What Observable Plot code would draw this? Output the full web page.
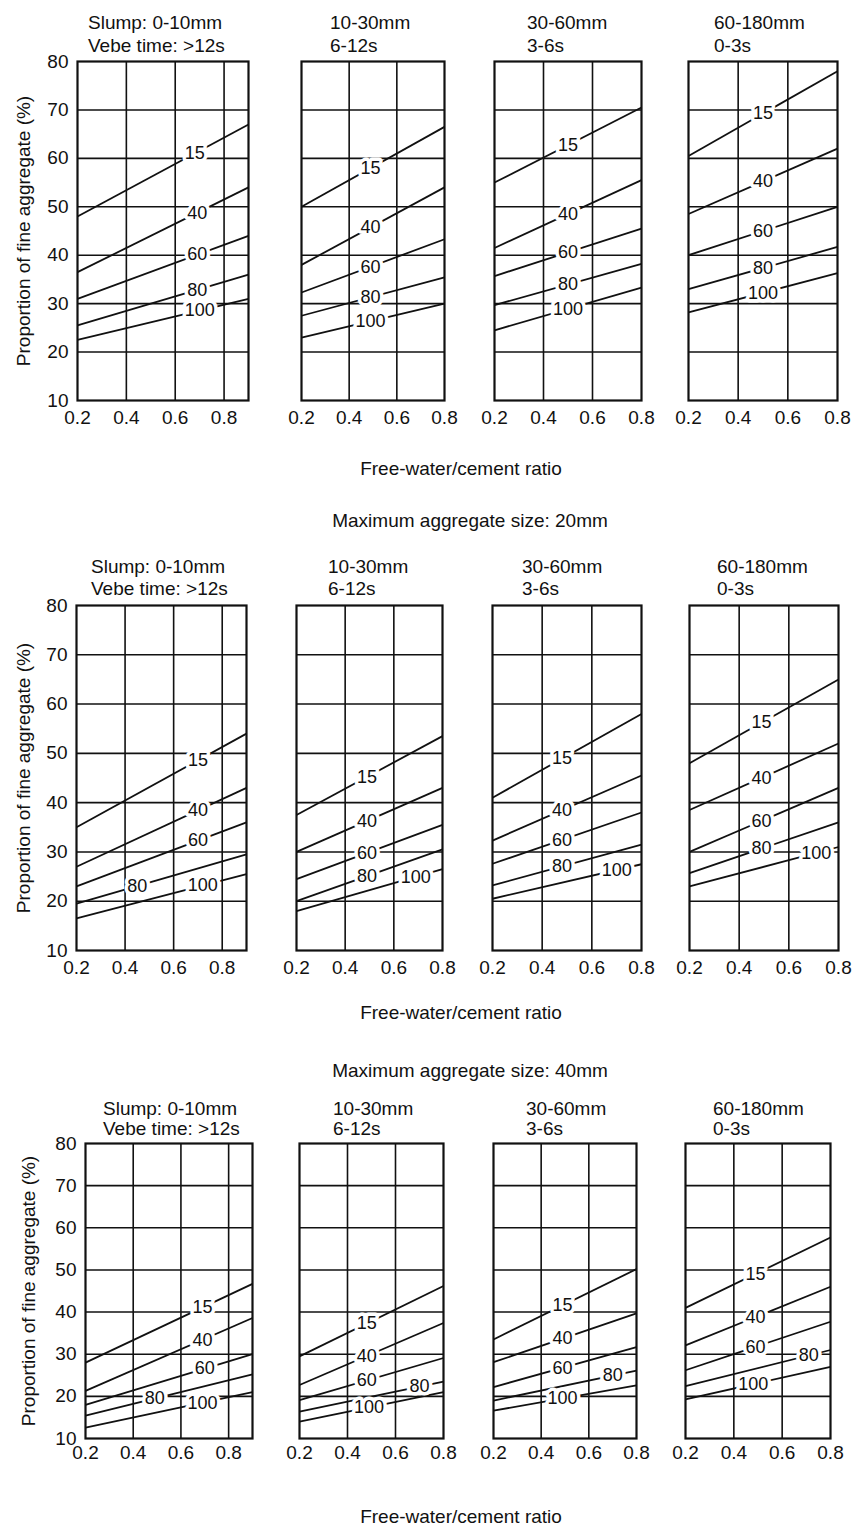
<!DOCTYPE html>
<html><head><meta charset="utf-8">
<script src="https://cdn.jsdelivr.net/npm/d3@7"></script>
<script src="https://cdn.jsdelivr.net/npm/@observablehq/plot@0.6"></script>
<style>
body{margin:0;background:#fff;}
#root{position:relative;width:858px;height:1540px;overflow:hidden;background:#fff;font-family:"Liberation Sans",Arial,sans-serif;color:#111;}
.t{position:absolute;white-space:nowrap;font-size:19px;line-height:23px;}
.c{transform:translateX(-50%);}
</style></head><body><div id="root"></div>
<script>
// ---------- data ----------
const curveLabels = ["15", "40", "60", "80", "100"];      // % passing 600 µm sieve
const slumpTitles = ["Slump: 0-10mm", "10-30mm", "30-60mm", "60-180mm"];
const vebeTitles  = ["Vebe time: >12s", "6-12s", "3-6s", "0-3s"];
const rowTitles   = ["", "Maximum aggregate size: 20mm", "Maximum aggregate size: 40mm"];
const xTicks = [0.2, 0.4, 0.6, 0.8];
const yTicks = [10, 20, 30, 40, 50, 60, 70, 80];
const xLabel = "Free-water/cement ratio";
const yLabel = "Proportion of fine aggregate (%)";

// values at w/c = 0.2 (start) and at right edge (end), per slump panel, per curve
const agg10Start = [[48, 36.5, 31, 25.5, 22.5], [50, 38, 32.3, 27.5, 23], [55, 41.5, 35.7, 29.7, 24.5], [60.5, 48.5, 40, 33, 28.2]];
const agg10End   = [[67, 54, 44, 36, 31], [66.5, 54, 43.3, 35.4, 30], [70.5, 55.5, 45.5, 38.2, 33.3], [78, 62, 50, 41.7, 36.3]];
const agg10LabelAt = [[0.68, 0.69, 0.69, 0.69, 0.70], [0.49, 0.49, 0.49, 0.49, 0.49], [0.5, 0.5, 0.5, 0.5, 0.5], [0.5, 0.5, 0.5, 0.5, 0.5]];

const agg20Start = [[35, 27, 23, 19.5, 16.5], [37.5, 30, 24.5, 20, 18], [41, 32.3, 27.6, 23.2, 20.5], [48, 38.5, 30, 25.7, 23]];
const agg20End   = [[54, 43, 36, 29.5, 25.5], [53.5, 43, 35.5, 30.5, 26.5], [58, 45.5, 38, 31.5, 27.5], [65, 52, 43, 36, 31]];
const agg20LabelAt = [[0.70, 0.70, 0.70, 0.45, 0.72], [0.49, 0.49, 0.49, 0.49, 0.69], [0.48, 0.48, 0.48, 0.48, 0.70], [0.49, 0.49, 0.49, 0.49, 0.71]];

const agg40Start = [[28, 21.3, 18, 15.4, 12.6], [29.5, 22.7, 19.1, 16.4, 14], [33.5, 28.1, 22.2, 19, 16.6], [41, 32.1, 26.2, 22.4, 19.3]];
const agg40End   = [[46.7, 38.6, 30, 25.2, 21], [46.2, 37.4, 29.1, 23.5, 21], [50.2, 39.7, 31.7, 26.1, 22.6], [57.7, 46, 37.7, 31, 27]];
const agg40LabelAt = [[0.69, 0.69, 0.70, 0.49, 0.69], [0.48, 0.48, 0.48, 0.70, 0.49], [0.49, 0.49, 0.49, 0.70, 0.49], [0.49, 0.49, 0.49, 0.71, 0.48]];

const xMaxByCol = [0.9, 0.8, 0.8, 0.8];

// ---------- layout (pixels) ----------
const layout = [
  {top: 61, bottom: 400, cols: [[77, 248], [301, 444], [494, 641], [688, 837]], t1: 22, t2: 45, toff: [11, 29, 33, 26], xlab: 468, head: null, pad: 10, labOff: 61},
  {top: 605, bottom: 950, cols: [[76, 246], [296, 442], [492, 641], [689, 838]], t1: 566, t2: 588, toff: [15, 32, 30, 28], xlab: 1012, head: 520, pad: 10, labOff: 60},
  {top: 1143, bottom: 1438, cols: [[85, 252], [299, 443], [493, 636], [685, 830]], t1: 1108, t2: 1128, toff: [18, 34, 33, 28], xlab: 1516, head: 1070, pad: 7, labOff: 64}
];
const rowData = [
  [agg10Start, agg10End, agg10LabelAt],
  [agg20Start, agg20End, agg20LabelAt],
  [agg40Start, agg40End, agg40LabelAt]
];

const root = document.getElementById("root");
const FONT = '"Liberation Sans", Arial, sans-serif';
const INK = "#111";

function addText(txt, x, yc, center) {
  const d = document.createElement("div");
  d.className = "t" + (center ? " c" : "");
  d.textContent = txt;
  d.style.left = x + "px";
  d.style.top = (yc - 11.5) + "px";
  root.appendChild(d);
}

layout.forEach((L, r) => {
  const [starts, ends, labelAt] = rowData[r];
  L.cols.forEach(([fl, fr], c) => {
    const xMax = xMaxByCol[c];
    const curves = curveLabels.map((lab, i) => {
      const y1 = starts[c][i], y2 = ends[c][i], lx = labelAt[c][i];
      return {label: lab, x1: 0.2, y1, x2: xMax, y2, lx, ly: y1 + (lx - 0.2) / (xMax - 0.2) * (y2 - y1)};
    });
    const first = c === 0;
    const mL = first ? fl : 2, mR = 3, mT = 3, mB = 34;
    const plot = Plot.plot({
      width: fr - fl + mL + mR,
      height: L.bottom - L.top + mT + mB,
      marginLeft: mL, marginRight: mR, marginTop: mT, marginBottom: mB,
      style: {fontFamily: FONT, fontSize: "19px", background: "transparent", color: INK, overflow: "visible"},
      x: {domain: [0.2, xMax], ticks: xTicks, tickFormat: d => d.toFixed(1), tickSize: 0, tickPadding: L.pad, label: null},
      y: first
        ? {domain: [10, 80], ticks: yTicks, tickSize: 0, tickPadding: 9, label: yLabel, labelAnchor: "center", labelOffset: L.labOff, labelArrow: "none"}
        : {domain: [10, 80], axis: null},
      marks: [
        Plot.ruleY(yTicks.filter(v => v > 10 && v < 80), {stroke: INK, strokeWidth: 1.6}),
        Plot.ruleX(xTicks.filter(v => v > 0.2 && v < xMax), {stroke: INK, strokeWidth: 1.6}),
        Plot.frame({stroke: INK, strokeWidth: 2.2}),
        Plot.link(curves, {x1: "x1", y1: "y1", x2: "x2", y2: "y2", stroke: INK, strokeWidth: 1.8}),
        Plot.text(curves, {x: "lx", y: "ly", text: "label", fontSize: 18, fill: INK, stroke: "white", strokeWidth: 7, paintOrder: "stroke", strokeLinejoin: "round"})
      ]
    });
    plot.style.position = "absolute";
    plot.style.left = (fl - mL) + "px";
    plot.style.top = (L.top - mT) + "px";
    root.appendChild(plot);
    addText(slumpTitles[c], fl + L.toff[c], L.t1, false);
    addText(vebeTitles[c], fl + L.toff[c], L.t2, false);
  });
  addText(xLabel, 461, L.xlab, true);
  if (L.head) addText(rowTitles[r], 470, L.head, true);
});
</script>
</body></html>
